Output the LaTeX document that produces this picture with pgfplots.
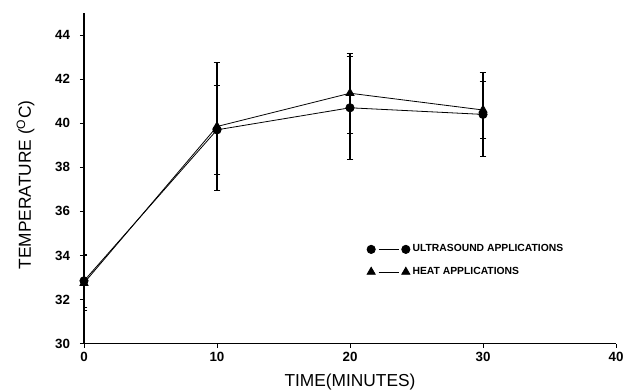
\documentclass[border=0pt]{standalone}
\usepackage{pgfplots}
\pgfplotsset{compat=1.18}
\usepackage{fontspec}
\setmainfont{Liberation Sans}
\usetikzlibrary{calc}
\begin{document}
\begin{tikzpicture}
\begin{axis}[name=ax,
  scale only axis, width=399pt, height=248pt,
  xmin=0, xmax=40, ymin=30, ymax=45,
  xtick={0,10,20,30,40}, ytick={30,32,...,44},
  axis x line=bottom, axis y line=left,
  axis line style={-, line width=0.8pt},
  tick align=outside, major tick length=3pt,
  tick style={black, line width=0.6pt},
  /pgf/number format/assume math mode=true,
  tick label style={font=\fontsize{10}{12}\selectfont\bfseries},
  yticklabel style={xshift=-4pt},
  xlabel={TIME(MINUTES)}, ylabel={TEMPERATURE (\textsuperscript{O}C)},
  label style={font=\fontsize{13}{15}\selectfont},
  xlabel style={at={(axis description cs:0.5,-0.115)}, anchor=center},
  ylabel style={at={(axis description cs:-0.11,0.48)}, anchor=center},
  legend cell align=left,
  legend style={draw=none, fill=none, at={(0.524,0.316)}, anchor=north west,
    font=\fontsize{7.75}{9}\selectfont\bfseries, row sep=6pt},
  legend image code/.code={
    \path[#1,draw=none,mark options={draw=black,fill=black},mark repeat=2,mark phase=1] plot coordinates {(0pt,0pt)(13pt,0pt)(26pt,0pt)};
    \draw[#1] (5.5pt,0pt)--(20.5pt,0pt);},
]
\addplot[black, line width=0.6pt, mark=*, mark size=3.1pt,
  error bars/.cd, y dir=both, y explicit, error mark options={rotate=90, mark size=2.5pt, line width=0.6pt}, error bar style={line width=0.9pt}]
  coordinates {
  (0,32.85) +- (0,1.2)
  (10,39.7) +- (0,2.0)
  (20,40.7) +- (0,2.35)
  (30,40.4) +- (0,1.9)
  };
\addlegendentry{ULTRASOUND APPLICATIONS}
\addplot[black, line width=0.6pt, mark=triangle*, mark size=3.5pt,
  error bars/.cd, y dir=both, y explicit, error mark options={rotate=90, mark size=2.5pt, line width=0.6pt}, error bar style={line width=0.9pt}]
  coordinates {
  (0,32.75) +- (0,1.25)
  (10,39.85) +- (0,2.9)
  (20,41.36) +- (0,1.8)
  (30,40.6) +- (0,1.3)
  };
\addlegendentry{HEAT APPLICATIONS}
\end{axis}
\pgfresetboundingbox
\path[use as bounding box] ($(ax.south west)+(-63pt,-35.25pt)$) rectangle ($(ax.north east)+(6pt,9.75pt)$);
\end{tikzpicture}
\end{document}
